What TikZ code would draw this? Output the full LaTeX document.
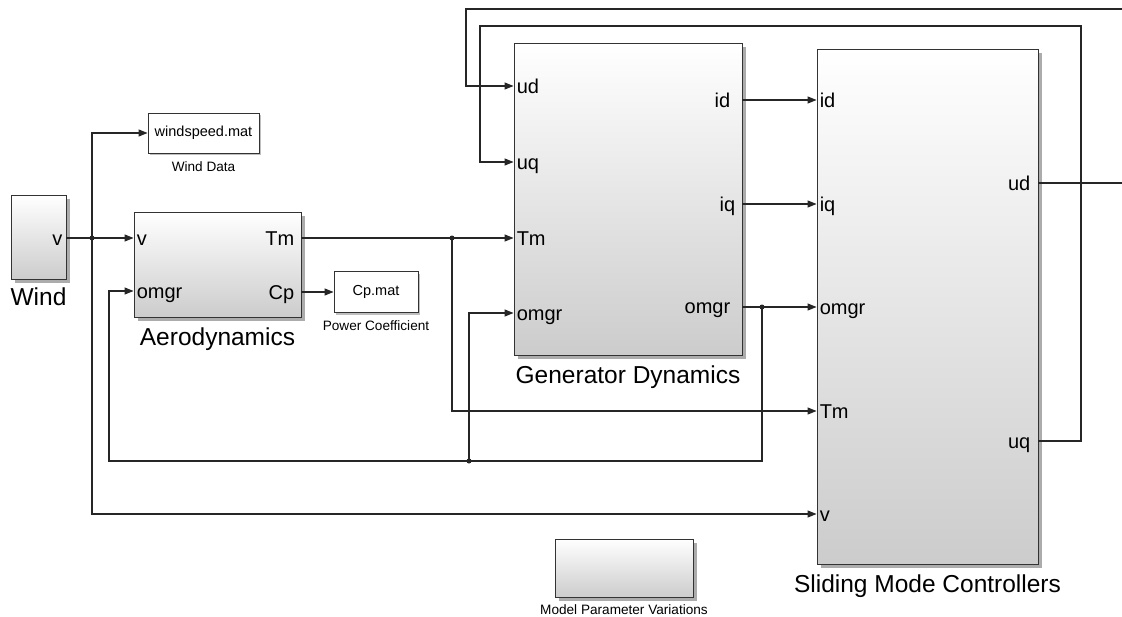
\documentclass[tikz,border=0pt]{standalone}
\usepackage{fontspec}
\setmainfont{Liberation Sans}
\usetikzlibrary{arrows.meta,shadows}
\begin{document}
\begin{tikzpicture}[x=1pt,y=-1pt,
  blk/.style={draw=black!80, line width=0.9pt, shading=axis, top color=white, middle color=white!95!black, bottom color=black!20, inner sep=0pt, drop shadow={shadow xshift=3.5pt,shadow yshift=-3.5pt,opacity=0.65}},
  fileblk/.style={draw=black!80, line width=0.9pt, fill=white, inner sep=0pt, font=\fontsize{14.5}{17}\selectfont, drop shadow={shadow xshift=2pt,shadow yshift=-2pt,opacity=0.5}},
  wire/.style={line width=1.1pt, draw=black!85},
  arr/.style={wire, -{Triangle[length=9pt,width=7pt]}},
  jdot/.style={circle, fill=black!85, inner sep=0pt, minimum size=5pt},
  port/.style={font=\fontsize{20}{24}\selectfont, inner sep=0pt},
  pin/.style={port, anchor=base west},
  pout/.style={port, anchor=base east},
  title/.style={font=\fontsize{24.5}{28}\selectfont, inner sep=0pt, anchor=base},
  small/.style={font=\fontsize{13.6}{16}\selectfont, inner sep=0pt, anchor=base}
]
\fill[white] (0,0) rectangle (1122,616);
\useasboundingbox (0,0) rectangle (1122,616);

% blocks
\node[blk, minimum width=55pt, minimum height=84pt] (wind) at (38.5,237) {};
\node[fileblk, minimum width=111pt, minimum height=40pt] (wsp) at (203.5,133) {windspeed.mat};
\node[blk, minimum width=167pt, minimum height=105pt] (aero) at (217.5,264.5) {};
\node[fileblk, minimum width=84pt, minimum height=41pt] (cp) at (376,292) {Cp.mat};
\node[blk, minimum width=228pt, minimum height=312pt] (gd) at (628,199) {};
\node[blk, minimum width=221pt, minimum height=515pt] (smc) at (927.5,306.5) {};
\node[blk, minimum width=138pt, minimum height=58pt] (mpv) at (624,568) {};

% block titles
\node[title] (windlbl) at ([yshift=-26pt]wind.south) {Wind};
\node[title] (aerolbl) at ([yshift=-28pt]aero.south) {Aerodynamics};
\node[title] (gdlbl) at ([yshift=-28pt]gd.south) {Generator Dynamics};
\node[title] (smclbl) at ([yshift=-28pt]smc.south) {Sliding Mode Controllers};
\node[small] (wsplbl) at ([yshift=-18pt]wsp.south) {Wind Data};
\node[small] (cplbl) at ([yshift=-18pt]cp.south) {Power Coefficient};
\node[small] (mpvlbl) at ([yshift=-17pt]mpv.south) {Model Parameter Variations};

% ports
\coordinate (windv) at (wind.east |- 0,238);
\coordinate (aerov) at (aero.west |- 0,238);
\coordinate (aeroomgr) at (aero.west |- 0,291);
\coordinate (aeroTm) at (aero.east |- 0,238);
\coordinate (aeroCp) at (aero.east |- 0,292);
\coordinate (gdud) at (gd.west |- 0,86);
\coordinate (gduq) at (gd.west |- 0,162);
\coordinate (gdTm) at (gd.west |- 0,238);
\coordinate (gdomgrin) at (gd.west |- 0,313);
\coordinate (gdid) at (gd.east |- 0,100);
\coordinate (gdiq) at (gd.east |- 0,204);
\coordinate (gdomgr) at (gd.east |- 0,307);
\coordinate (smcid) at (smc.west |- 0,100);
\coordinate (smciq) at (smc.west |- 0,204);
\coordinate (smcomgr) at (smc.west |- 0,307);
\coordinate (smcTm) at (smc.west |- 0,411);
\coordinate (smcv) at (smc.west |- 0,514);
\coordinate (smcud) at (smc.east |- 0,183);
\coordinate (smcuq) at (smc.east |- 0,441);

% port labels
\node[pout] at ([xshift=-4pt,yshift=-7pt]windv) {v};
\node[pin] at ([xshift=3pt,yshift=-7pt]aerov) {v};
\node[pin] at ([xshift=3pt,yshift=-7pt]aeroomgr) {omgr};
\node[pout] at ([xshift=-7pt,yshift=-7pt]aeroTm) {Tm};
\node[pout] at ([xshift=-7pt,yshift=-7pt]aeroCp) {Cp};
\node[pin] at ([xshift=3pt,yshift=-7pt]gdud) {ud};
\node[pin] at ([xshift=3pt,yshift=-7pt]gduq) {uq};
\node[pin] at ([xshift=3pt,yshift=-7pt]gdTm) {Tm};
\node[pin] at ([xshift=3pt,yshift=-7pt]gdomgrin) {omgr};
\node[pout] at ([xshift=-12pt,yshift=-7pt]gdid) {id};
\node[pout] at ([xshift=-7pt,yshift=-7pt]gdiq) {iq};
\node[pout] at ([xshift=-12pt,yshift=-6pt]gdomgr) {omgr};
\node[pin] at ([xshift=3pt,yshift=-7pt]smcid) {id};
\node[pin] at ([xshift=3pt,yshift=-7pt]smciq) {iq};
\node[pin] at ([xshift=3pt,yshift=-7pt]smcomgr) {omgr};
\node[pin] at ([xshift=3pt,yshift=-7pt]smcTm) {Tm};
\node[pin] at ([xshift=3pt,yshift=-7pt]smcv) {v};
\node[pout] at ([xshift=-8pt,yshift=-7pt]smcud) {ud};
\node[pout] at ([xshift=-8pt,yshift=-7pt]smcuq) {uq};

% junctions and bends
\coordinate (j1) at (92,238);
\coordinate (j2) at (452,238);
\coordinate (j3) at (762,307);
\coordinate (j4) at (469,461);
\coordinate (fbk) at (109,461);
\coordinate (c1) at (1081,26);
\coordinate (c2) at (480,26);
\coordinate (c3) at (466,9);
\coordinate (e1) at (1122,183);
\coordinate (e2) at (1122,9);

% wires
\draw[arr] (windv) -- (aerov);
\draw[arr] (j1) |- (wsp.west);
\draw[arr] (j1) |- (smcv);
\draw[arr] (aeroTm) -- (gdTm);
\draw[arr] (j2) |- (smcTm);
\draw[arr] (aeroCp) -- (cp.west);
\draw[arr] (gdid) -- (smcid);
\draw[arr] (gdiq) -- (smciq);
\draw[arr] (gdomgr) -- (smcomgr);
\draw[arr] (j3) |- (fbk) |- (aeroomgr);
\draw[arr] (j4) |- (gdomgrin);
\draw[arr] (smcuq) -| (c1) -- (c2) |- (gduq);
\draw[wire] (smcud) -- (e1);
\draw[arr] (e2) -- (c3) |- (gdud);

\foreach \j in {j1,j2,j3,j4} \node[jdot] at (\j) {};
\end{tikzpicture}
\end{document}
